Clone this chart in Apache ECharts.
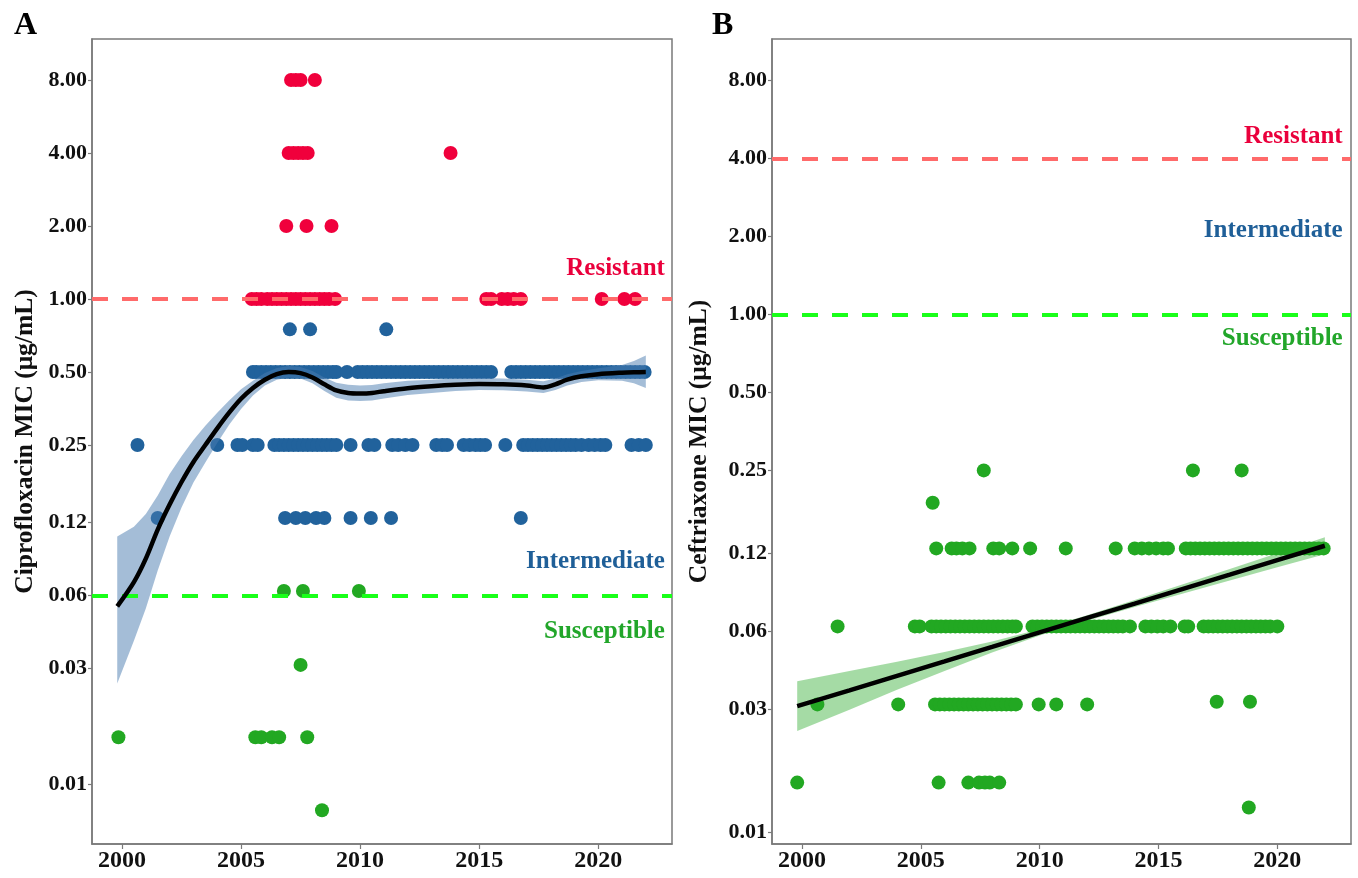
<!DOCTYPE html>
<html>
<head>
<meta charset="utf-8">
<script src="https://cdn.jsdelivr.net/npm/echarts@6/dist/echarts.min.js"></script>
<style>
html,body{margin:0;padding:0;background:#fff}
#chart{width:1358px;height:878px}
</style>
</head>
<body>
<div id="chart"></div>
<script>
// ---- Isolate MIC values by year of isolation: [year, MIC in µg/mL] ----

// Ciprofloxacin, resistant isolates
const cipResistant = [
  [2007.1,8],[2007.3,8],[2007.5,8],[2008.1,8],
  [2007.0,4],[2007.2,4],[2007.4,4],[2007.6,4],[2007.8,4],[2013.8,4],
  [2006.9,2],[2007.75,2],[2008.8,2],
  [2005.45,1],[2005.65,1],[2005.85,1],[2006.1,1],[2006.3,1],[2006.5,1],[2006.7,1],[2006.9,1],
  [2007.1,1],[2007.3,1],[2007.5,1],[2007.7,1],[2007.9,1],[2008.1,1],[2008.3,1],[2008.5,1],
  [2008.7,1],[2008.95,1],
  [2015.3,1],[2015.5,1],[2015.95,1],[2016.2,1],[2016.45,1],[2016.75,1],
  [2020.15,1],[2021.1,1],[2021.55,1]
];

// Ciprofloxacin, intermediate isolates
const cipIntermediate = [
  [2007.05,0.75],[2007.9,0.75],[2011.1,0.75],
  [2005.5,0.5],[2005.65,0.5],[2005.85,0.5],[2006.05,0.5],[2006.25,0.5],[2006.45,0.5],[2006.65,0.5],
  [2006.85,0.5],[2007.05,0.5],[2007.25,0.5],[2007.45,0.5],[2007.65,0.5],[2007.85,0.5],[2008.05,0.5],
  [2008.25,0.5],[2008.45,0.5],[2008.65,0.5],[2008.85,0.5],[2009.0,0.5],[2009.45,0.5],
  [2009.9,0.5],[2010.1,0.5],[2010.3,0.5],[2010.5,0.5],[2010.7,0.5],[2010.9,0.5],[2011.1,0.5],
  [2011.3,0.5],[2011.5,0.5],[2011.7,0.5],[2011.9,0.5],[2012.1,0.5],[2012.3,0.5],[2012.5,0.5],
  [2012.7,0.5],[2012.9,0.5],[2013.1,0.5],[2013.3,0.5],[2013.5,0.5],[2013.7,0.5],[2013.9,0.5],
  [2014.1,0.5],[2014.3,0.5],[2014.5,0.5],[2014.7,0.5],[2014.9,0.5],[2015.1,0.5],[2015.3,0.5],
  [2015.5,0.5],
  [2016.35,0.5],[2016.55,0.5],[2016.75,0.5],[2016.95,0.5],[2017.15,0.5],[2017.35,0.5],[2017.55,0.5],
  [2017.75,0.5],[2017.95,0.5],[2018.15,0.5],[2018.35,0.5],[2018.55,0.5],[2018.75,0.5],[2018.95,0.5],
  [2019.15,0.5],[2019.35,0.5],[2019.55,0.5],[2019.75,0.5],[2019.95,0.5],[2020.15,0.5],[2020.35,0.5],
  [2020.55,0.5],[2020.75,0.5],[2020.95,0.5],[2021.15,0.5],[2021.35,0.5],[2021.55,0.5],[2021.75,0.5],
  [2021.95,0.5],
  [2000.65,0.25],[2004.0,0.25],[2004.85,0.25],[2005.05,0.25],[2005.5,0.25],[2005.7,0.25],
  [2006.4,0.25],[2006.6,0.25],[2006.8,0.25],[2007.0,0.25],[2007.2,0.25],[2007.4,0.25],[2007.6,0.25],
  [2007.8,0.25],[2008.0,0.25],[2008.2,0.25],[2008.4,0.25],[2008.6,0.25],[2008.8,0.25],[2009.0,0.25],
  [2009.6,0.25],[2010.35,0.25],[2010.6,0.25],
  [2011.35,0.25],[2011.6,0.25],[2011.9,0.25],[2012.2,0.25],
  [2013.2,0.25],[2013.45,0.25],[2013.65,0.25],
  [2014.35,0.25],[2014.6,0.25],[2014.85,0.25],[2015.05,0.25],[2015.25,0.25],
  [2016.1,0.25],
  [2016.85,0.25],[2017.05,0.25],[2017.25,0.25],[2017.45,0.25],[2017.65,0.25],[2017.85,0.25],
  [2018.05,0.25],[2018.25,0.25],[2018.45,0.25],[2018.65,0.25],[2018.85,0.25],[2019.05,0.25],
  [2019.3,0.25],[2019.6,0.25],[2019.85,0.25],[2020.1,0.25],[2020.3,0.25],
  [2021.4,0.25],[2021.7,0.25],[2022.0,0.25],
  [2001.5,0.125],[2006.85,0.125],[2007.3,0.125],[2007.7,0.125],[2008.15,0.125],[2008.5,0.125],
  [2009.6,0.125],[2010.45,0.125],[2011.3,0.125],[2016.75,0.125]
];

// Ciprofloxacin, susceptible isolates
const cipSusceptible = [
  [2006.8,0.0625],[2007.6,0.0625],[2009.95,0.0625],
  [2007.5,0.031],
  [1999.85,0.0156],[2005.6,0.0156],[2005.85,0.0156],[2006.3,0.0156],[2006.6,0.0156],[2007.78,0.0156],
  [2008.4,0.0078]
];

// Ceftriaxone, all isolates susceptible
const cefSusceptible = [
  [2007.65,0.25],[2016.45,0.25],[2018.5,0.25],
  [2005.5,0.1875],
  [2005.65,0.125],[2006.3,0.125],[2006.5,0.125],[2006.75,0.125],[2007.05,0.125],[2008.05,0.125],
  [2008.3,0.125],[2008.85,0.125],[2009.6,0.125],[2011.1,0.125],[2013.2,0.125],
  [2014.0,0.125],[2014.3,0.125],[2014.6,0.125],[2014.9,0.125],[2015.2,0.125],[2015.4,0.125],
  [2016.15,0.125],[2016.35,0.125],[2016.55,0.125],[2016.75,0.125],[2016.95,0.125],[2017.15,0.125],
  [2017.35,0.125],[2017.55,0.125],[2017.75,0.125],[2017.95,0.125],[2018.15,0.125],[2018.35,0.125],
  [2018.55,0.125],[2018.75,0.125],[2018.95,0.125],[2019.15,0.125],[2019.35,0.125],[2019.55,0.125],
  [2019.75,0.125],[2019.95,0.125],[2020.15,0.125],[2020.35,0.125],[2020.55,0.125],[2020.75,0.125],
  [2020.95,0.125],[2021.15,0.125],[2021.35,0.125],[2021.55,0.125],[2021.75,0.125],[2021.95,0.125],
  [2001.5,0.0625],[2004.75,0.0625],[2004.95,0.0625],
  [2005.45,0.0625],[2005.65,0.0625],[2005.85,0.0625],[2006.05,0.0625],[2006.25,0.0625],[2006.45,0.0625],
  [2006.65,0.0625],[2006.85,0.0625],[2007.05,0.0625],[2007.25,0.0625],[2007.45,0.0625],[2007.65,0.0625],
  [2007.85,0.0625],[2008.05,0.0625],[2008.25,0.0625],[2008.45,0.0625],[2008.65,0.0625],[2008.85,0.0625],
  [2009.0,0.0625],
  [2009.7,0.0625],[2009.9,0.0625],[2010.1,0.0625],[2010.3,0.0625],[2010.5,0.0625],[2010.7,0.0625],
  [2010.9,0.0625],[2011.1,0.0625],[2011.3,0.0625],[2011.5,0.0625],[2011.7,0.0625],[2011.9,0.0625],
  [2012.1,0.0625],[2012.3,0.0625],[2012.5,0.0625],[2012.7,0.0625],[2012.9,0.0625],[2013.1,0.0625],
  [2013.3,0.0625],[2013.5,0.0625],[2013.8,0.0625],
  [2014.45,0.0625],[2014.7,0.0625],[2014.95,0.0625],[2015.2,0.0625],[2015.5,0.0625],
  [2016.1,0.0625],[2016.25,0.0625],
  [2016.9,0.0625],[2017.1,0.0625],[2017.3,0.0625],[2017.5,0.0625],[2017.7,0.0625],[2017.9,0.0625],
  [2018.1,0.0625],[2018.3,0.0625],[2018.5,0.0625],[2018.7,0.0625],[2018.9,0.0625],[2019.1,0.0625],
  [2019.3,0.0625],[2019.5,0.0625],[2019.7,0.0625],[2020.0,0.0625],
  [2000.65,0.03125],[2004.05,0.03125],
  [2005.6,0.03125],[2005.8,0.03125],[2006.0,0.03125],[2006.2,0.03125],[2006.4,0.03125],[2006.6,0.03125],
  [2006.8,0.03125],[2007.0,0.03125],[2007.2,0.03125],[2007.4,0.03125],[2007.6,0.03125],[2007.8,0.03125],
  [2008.0,0.03125],[2008.2,0.03125],[2008.4,0.03125],[2008.6,0.03125],[2008.8,0.03125],[2009.0,0.03125],
  [2009.96,0.03125],[2010.7,0.03125],[2012.0,0.03125],
  [2017.45,0.032],[2018.85,0.032],
  [1999.8,0.0156],[2005.75,0.0156],[2007.0,0.0156],[2007.45,0.0156],[2007.7,0.0156],[2007.9,0.0156],
  [2008.3,0.0156],
  [2018.8,0.0125]
];

// Ciprofloxacin LOESS fit and its confidence band
const cipTrend = [
  [1999.8,0.054],[2000.5,0.068],[2001.0,0.085],[2001.5,0.112],[2002.0,0.142],[2002.5,0.176],
  [2003.0,0.213],[2003.5,0.25],[2004.0,0.293],[2004.5,0.34],[2005.0,0.388],[2005.5,0.43],
  [2006.0,0.465],[2006.5,0.49],[2007.0,0.50],[2007.5,0.495],[2008.0,0.475],[2008.5,0.445],
  [2009.0,0.42],[2009.5,0.41],[2010.0,0.408],[2010.5,0.41],[2011.0,0.417],[2012.0,0.429],
  [2013.0,0.437],[2014.0,0.443],[2015.0,0.446],[2016.0,0.445],[2017.0,0.44],[2017.7,0.432],
  [2018.2,0.445],[2018.7,0.465],[2019.3,0.48],[2020.0,0.49],[2021.0,0.497],[2021.5,0.499],
  [2022.0,0.50]
];
const cipBandHigh = [0.105,0.115,0.13,0.155,0.19,0.225,0.262,0.30,0.34,0.382,0.425,0.46,
  0.495,0.52,0.53,0.525,0.505,0.475,0.452,0.443,0.44,0.442,0.449,0.46,0.465,0.47,0.472,
  0.47,0.465,0.458,0.47,0.49,0.505,0.518,0.535,0.555,0.585];
const cipBandLow = [0.026,0.039,0.053,0.076,0.105,0.138,0.175,0.212,0.255,0.303,0.352,0.40,
  0.44,0.465,0.475,0.47,0.45,0.418,0.392,0.382,0.38,0.382,0.389,0.402,0.41,0.418,0.422,
  0.421,0.416,0.41,0.422,0.44,0.455,0.463,0.46,0.45,0.43];

// Ceftriaxone linear fit and its confidence band
const cefTrend = [
  [1999.8,0.0308],[2002,0.0354],[2004,0.0403],[2006,0.0458],[2008,0.0521],[2010,0.0593],
  [2012,0.0674],[2014,0.0766],[2016,0.0871],[2018,0.0990],[2020,0.1126],[2022,0.128]
];
const cefBandHigh = [0.0384,0.0421,0.0457,0.0498,0.0547,0.0610,0.0691,0.0790,0.0908,0.1042,0.1198,0.1381];
const cefBandLow  = [0.0247,0.0298,0.0356,0.0421,0.0496,0.0577,0.0658,0.0742,0.0835,0.0940,0.1058,0.1186];

// Breakpoints and their category labels
const cipBreakpoints = [1.0, 0.06];
const cefBreakpoints = [4.0, 1.0];
const cipZoneLabels = [[2022.8,1.33,'Resistant'],[2022.8,0.083,'Intermediate'],[2022.8,0.0427,'Susceptible']];
const cefZoneLabels = [[2022.75,4.84,'Resistant'],[2022.75,2.1,'Intermediate'],[2022.75,0.81,'Susceptible']];

// Axis ticks
const yearTicks = [2000, 2005, 2010, 2015, 2020];
const micTicks = [8, 4, 2, 1, 0.5, 0.25, 0.12, 0.06, 0.03, 0.01];

const SERIF = 'Liberation Serif';
const RED = '#f0003c', BLUE = '#21629c', GREEN = '#22a822';
const ZONE_COLORS = ['#ea003c', '#1f5f98', '#22a62a'];
const AXIS_GREY = '#7a7a7a';

function xAxisFor(gridIndex) {
  return {
    type: 'value', gridIndex, min: 1998.74, max: 2023.1,
    splitLine: {show: false},
    axisLine: {show: true, onZero: false, lineStyle: {color: AXIS_GREY, width: 1.5}},
    axisTick: {show: true, length: 5, customValues: yearTicks, lineStyle: {color: AXIS_GREY, width: 1.2}},
    axisLabel: {customValues: yearTicks, margin: 5, color: '#111', fontFamily: SERIF,
      fontWeight: 'bold', fontSize: 24, hideOverlap: false, formatter: v => String(v)}
  };
}
function yAxisFor(gridIndex, name, min, max, gap) {
  return {
    type: 'log', logBase: 2, gridIndex, min, max,
    name, nameLocation: 'middle', nameGap: gap,
    nameTextStyle: {fontFamily: SERIF, fontWeight: 'bold', fontSize: 25.5, color: '#111'},
    splitLine: {show: false},
    axisLine: {show: true, lineStyle: {color: AXIS_GREY, width: 1.5}},
    axisTick: {show: true, length: 4, customValues: micTicks, lineStyle: {color: AXIS_GREY, width: 1.2}},
    axisLabel: {customValues: micTicks, margin: 5, color: '#111', fontFamily: SERIF,
      fontWeight: 'bold', fontSize: 22, hideOverlap: false,
      formatter: v => Number(v).toFixed(2)}
  };
}
function points(data, color, idx) {
  return {type: 'scatter', xAxisIndex: idx, yAxisIndex: idx, data, symbolSize: 14,
    itemStyle: {color, opacity: 1}, z: 3, silent: true};
}
function breakpointLines(values, idx) {
  const colors = ['#ff6a6a', '#19ff19'];
  return {
    type: 'line', xAxisIndex: idx, yAxisIndex: idx, data: [], z: 2, silent: true,
    markLine: {
      silent: true, symbol: ['none', 'none'], label: {show: false},
      data: values.map((v, i) => ({yAxis: v, lineStyle: {color: colors[i], width: 4, type: [16, 14], opacity: 1}}))
    }
  };
}
function zoneLabels(rows, idx) {
  return {
    type: 'scatter', xAxisIndex: idx, yAxisIndex: idx, symbolSize: 0, z: 6, silent: true,
    itemStyle: {opacity: 1},
    data: rows.map((r, i) => ({
      value: [r[0], r[1]], name: r[2],
      label: {show: true, position: 'left', distance: 0, formatter: '{b}', opacity: 1,
        color: ZONE_COLORS[i], fontFamily: SERIF, fontWeight: 'bold', fontSize: 25}
    }))
  };
}
// Confidence band: one polygon through the upper edge and back along the lower edge
function band(trend, low, high, idx, color) {
  return {
    type: 'custom', xAxisIndex: idx, yAxisIndex: idx, silent: true, z: 4,
    data: trend.map((p, i) => [p[0], low[i], high[i]]),
    encode: {x: 0, y: [1, 2]},
    renderItem: (params, api) => {
      if (params.dataIndex !== 0) return null;
      const upper = trend.map((p, i) => api.coord([p[0], high[i]]));
      const lower = trend.map((p, i) => api.coord([p[0], low[i]])).reverse();
      return {type: 'polygon', shape: {points: upper.concat(lower)}, style: {fill: color}};
    }
  };
}
function trendLine(data, idx) {
  return {type: 'line', xAxisIndex: idx, yAxisIndex: idx, data, symbol: 'none', silent: true,
    z: 5, smooth: idx === 0 ? 0.3 : false, lineStyle: {color: '#000', width: 4.5}};
}

const chart = echarts.init(document.getElementById('chart'), null, {renderer: 'canvas'});
chart.setOption({
  backgroundColor: '#fff',
  animation: false,
  title: [
    {text: 'A', left: 9, top: 5, textStyle: {fontFamily: SERIF, fontWeight: 'bold', fontSize: 32, color: '#000'}},
    {text: 'B', left: 707, top: 5, textStyle: {fontFamily: SERIF, fontWeight: 'bold', fontSize: 32, color: '#000'}}
  ],
  grid: [
    {left: 92, top: 39, width: 580, height: 805, show: true, borderColor: AXIS_GREY, borderWidth: 1.5, backgroundColor: '#fff'},
    {left: 772, top: 39, width: 579, height: 805, show: true, borderColor: AXIS_GREY, borderWidth: 1.5, backgroundColor: '#fff'}
  ],
  xAxis: [xAxisFor(0), xAxisFor(1)],
  yAxis: [
    yAxisFor(0, 'Ciprofloxacin MIC (μg/mL)', 0.00566, 11.81, 54),
    yAxisFor(1, 'Ceftriaxone MIC (μg/mL)', 0.00904, 11.56, 60)
  ],
  series: [
    breakpointLines(cipBreakpoints, 0),
    points(cipResistant, RED, 0),
    points(cipIntermediate, BLUE, 0),
    points(cipSusceptible, GREEN, 0),
    band(cipTrend, cipBandLow, cipBandHigh, 0, 'rgba(74,123,176,0.5)'),
    trendLine(cipTrend, 0),
    zoneLabels(cipZoneLabels, 0),

    breakpointLines(cefBreakpoints, 1),
    points(cefSusceptible, GREEN, 1),
    band(cefTrend, cefBandLow, cefBandHigh, 1, 'rgba(40,170,40,0.42)'),
    trendLine(cefTrend, 1),
    zoneLabels(cefZoneLabels, 1)
  ]
});
</script>
</body>
</html>
